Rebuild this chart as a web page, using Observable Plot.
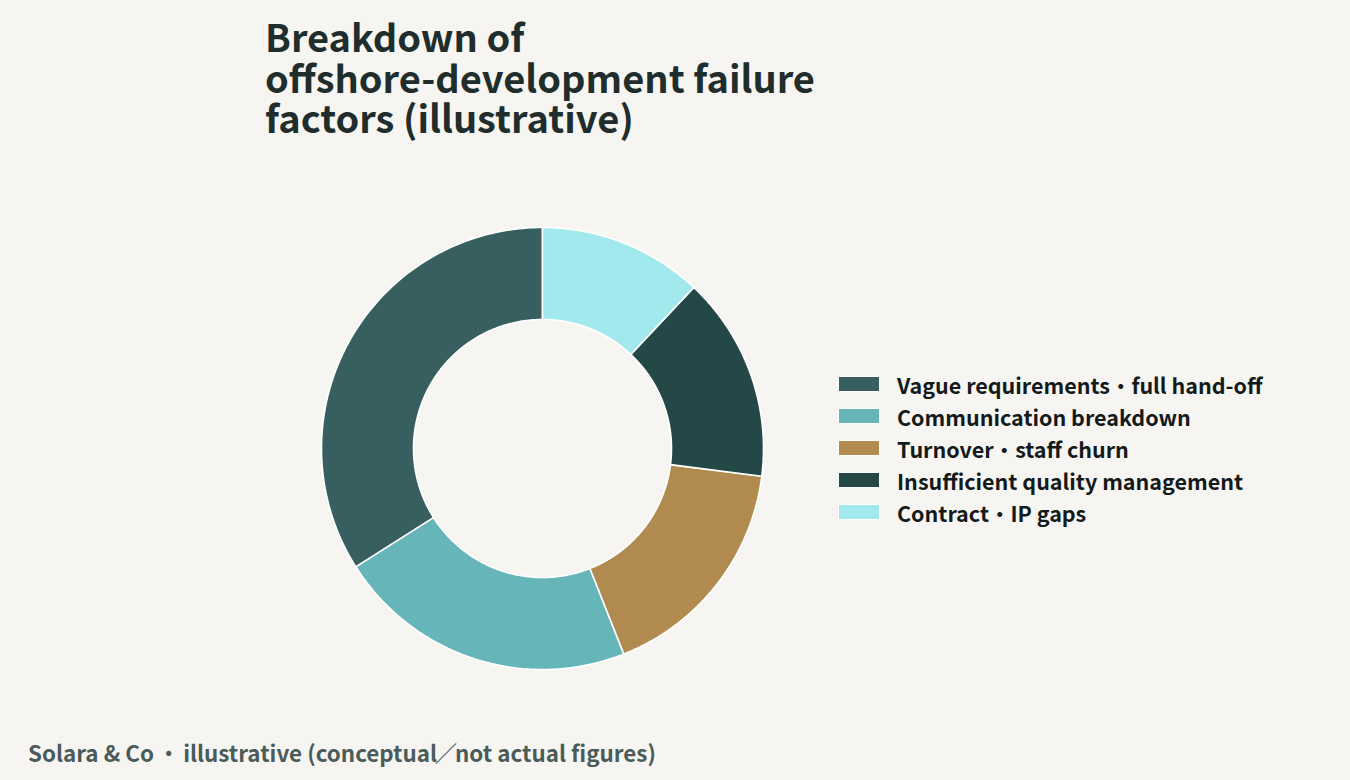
<!DOCTYPE html>
<html lang="ja">
<head>
<meta charset="utf-8">
<script src="https://cdn.jsdelivr.net/npm/d3@7"></script>
<script src="https://cdn.jsdelivr.net/npm/@observablehq/plot@0.6"></script>
<style>
  html, body { margin: 0; padding: 0; background: #f6f5f1; }
  body { width: 1350px; height: 780px; position: relative; overflow: hidden;
         font-family: "Noto Sans CJK JP", sans-serif; }
  #title { position: absolute; left: 265px; top: 16px; margin: 0;
           font-size: 38px; line-height: 40.6px; font-weight: 700; color: #1f2d2c; }
  #chart { position: absolute; left: 312px; top: 218px; }
  #legend { position: absolute; left: 838px; top: 368px; }
  .row { display: flex; align-items: center; height: 32px; }
  .sw { width: 40px; height: 14px; border: 1px solid #fff; margin-right: 17px; }
  .lab { font-size: 21.5px; font-weight: 700; color: #141a1a; white-space: pre; }
  .lab .cj { font-weight: 500; }
  #caption { position: absolute; left: 28px; top: 736px; font-size: 22.4px; font-weight: 700; color: #4a5b5a; white-space: pre; }
  #caption .dot { font-weight: 500; margin: 0 0.15em; }
  #caption .sl { font-weight: 400; margin: 0 -0.1em; }
</style>
</head>
<body>
<h1 id="title">Breakdown of<br>offshore-development failure<br>factors (illustrative)</h1>
<div id="chart"></div>
<div id="legend"></div>
<div id="caption"></div>
<script>
const categories = [
  "Vague requirements・full hand-off",
  "Communication breakdown",
  "Turnover・staff churn",
  "Insufficient quality management",
  "Contract・IP gaps"
];
const shares = [34, 22, 17, 15, 12];
const colors = ["#375f5f", "#65b5b9", "#b08a4e", "#244848", "#a1e9ec"];
const captionText = "Solara & Co・illustrative (conceptual／not actual figures)";

const R_OUT = 221, R_IN = 129, HALF = 230;
const total = d3.sum(shares);
// slices run counter-clockwise from 12 o'clock
const pts = [];
let acc = 0;
categories.forEach((name, i) => {
  const a0 = -acc / total * 2 * Math.PI;
  acc += shares[i];
  const a1 = -acc / total * 2 * Math.PI;
  const n = 120;
  const poly = [];
  for (let k = 0; k <= n; k++) {
    const a = a0 + (a1 - a0) * k / n;
    poly.push([R_OUT * Math.sin(a), R_OUT * Math.cos(a)]);
  }
  for (let k = n; k >= 0; k--) {
    const a = a0 + (a1 - a0) * k / n;
    poly.push([R_IN * Math.sin(a), R_IN * Math.cos(a)]);
  }
  poly.push(poly[0]);
  poly.forEach(([x, y]) => pts.push({name, x, y}));
});

const chart = Plot.plot({
  width: 2 * HALF, height: 2 * HALF, margin: 0,
  style: { background: "transparent", overflow: "visible" },
  x: { domain: [-HALF, HALF], axis: null },
  y: { domain: [-HALF, HALF], axis: null },
  color: { domain: categories, range: colors },
  marks: [
    Plot.line(pts, { x: "x", y: "y", z: "name", fill: "name", stroke: "#ffffff", strokeWidth: 1.6, strokeLinejoin: "miter" })
  ]
});
document.getElementById("chart").appendChild(chart);

// CJK punctuation goes into spans so its weight/spacing can be tuned
function fillText(el, text) {
  text.split(/([・／])/).forEach(part => {
    if (part === "・" || part === "／") {
      const s = document.createElement("span");
      s.className = "cj " + (part === "・" ? "dot" : "sl");
      s.textContent = part;
      el.appendChild(s);
    } else if (part) {
      el.appendChild(document.createTextNode(part));
    }
  });
}

const legend = document.getElementById("legend");
categories.forEach((c, i) => {
  const row = document.createElement("div");
  row.className = "row";
  const sw = document.createElement("div");
  sw.className = "sw";
  sw.style.background = colors[i];
  const lab = document.createElement("span");
  lab.className = "lab";
  fillText(lab, c);
  row.appendChild(sw); row.appendChild(lab);
  legend.appendChild(row);
});
fillText(document.getElementById("caption"), captionText);
</script>
</body>
</html>
